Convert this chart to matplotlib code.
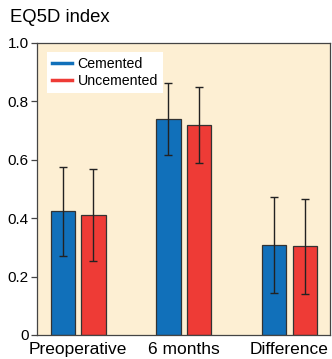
import matplotlib
matplotlib.use("Agg")
import matplotlib.pyplot as plt
import numpy as np
from matplotlib.lines import Line2D

plt.rcParams['font.family'] = ['Liberation Sans', 'DejaVu Sans']

categories = ["Preoperative", "6 months", "Difference"]
cemented = [0.425, 0.740, 0.307]
cemented_lo = [0.270, 0.616, 0.145]
cemented_hi = [0.576, 0.864, 0.473]
uncemented = [0.411, 0.718, 0.305]
uncemented_lo = [0.252, 0.588, 0.140]
uncemented_hi = [0.567, 0.850, 0.466]
yticks = [0, 0.2, 0.4, 0.6, 0.8, 1.0]
yticklabels = ["0", "0.2", "0.4", "0.6", "0.8", "1.0"]

blue = "#1170BA"
red = "#EE3B36"
bg = "#FDEFD3"

fig = plt.figure(figsize=(3.32, 3.59), dpi=100)
ax = fig.add_axes([37/332, 24/359, 293/332, 292/359])
ax.set_facecolor(bg)

x = np.arange(len(categories))
w = 0.23
off = 0.145

def errs(v, lo, hi):
    v = np.array(v); return [v - np.array(lo), np.array(hi) - v]

ax.bar(x - off, cemented, w, color=blue, edgecolor="#333333", linewidth=0.9,
       yerr=errs(cemented, cemented_lo, cemented_hi),
       error_kw=dict(ecolor="#222222", elinewidth=1.0, capsize=3, capthick=1.0))
ax.bar(x + off, uncemented, w, color=red, edgecolor="#333333", linewidth=0.9,
       yerr=errs(uncemented, uncemented_lo, uncemented_hi),
       error_kw=dict(ecolor="#222222", elinewidth=1.0, capsize=3, capthick=1.0))

ax.set_xlim(-0.39, 2.385)
ax.set_ylim(0, 1.0)
ax.set_yticks(yticks)
ax.set_yticklabels(yticklabels, fontsize=11)
ax.set_xticks(x)
ax.set_xticklabels(categories, fontsize=12.5)
ax.tick_params(axis='x', length=0, pad=5)
ax.tick_params(axis='y', length=4, width=0.9, color="#444444", pad=2)
for s in ax.spines.values():
    s.set_color("#444444")
    s.set_linewidth(0.9)

handles = [Line2D([0], [0], color=blue, lw=2.5), Line2D([0], [0], color=red, lw=2.5)]
leg = ax.legend(handles, ["Cemented", "Uncemented"], loc="upper left",
                bbox_to_anchor=(0.035, 0.97), frameon=True, fancybox=False,
                fontsize=10.2, handlelength=1.4, handletextpad=0.4,
                borderpad=0.35, labelspacing=0.2, borderaxespad=0.0)
leg.get_frame().set_facecolor("white")
leg.get_frame().set_edgecolor("none")
leg.get_frame().set_alpha(1)

fig.text(10/332, 1 - 18/359, "EQ5D index", fontsize=13.3, va="center", ha="left")

fig.savefig("out.png", dpi=100)
